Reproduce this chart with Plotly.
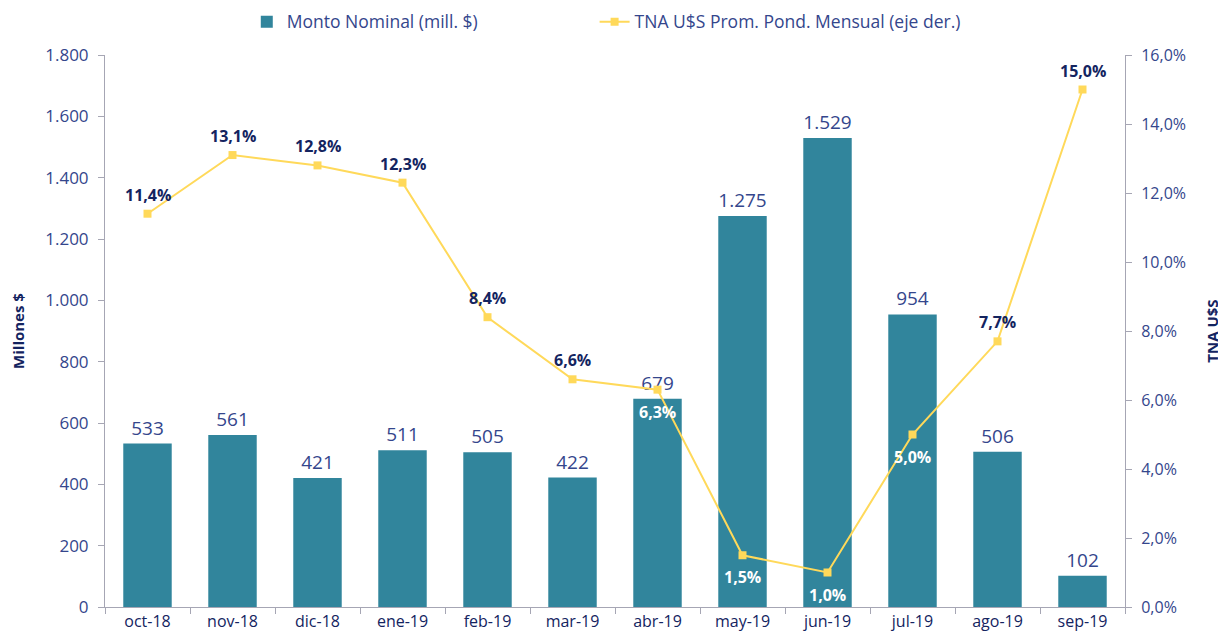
import plotly.graph_objects as go

BAR_COLOR = "#31859C"
LINE_COLOR = "#FFD95A"
NAVY = "#14245F"
TICK_COLOR = "#34468C"
AXIS_GRAY = "#A6A6B4"
FONT = "Open Sans"

meses = ["oct-18", "nov-18", "dic-18", "ene-19", "feb-19", "mar-19",
         "abr-19", "may-19", "jun-19", "jul-19", "ago-19", "sep-19"]
monto = [533, 561, 421, 511, 505, 422, 679, 1275, 1529, 954, 506, 102]
tna = [11.4, 13.1, 12.8, 12.3, 8.4, 6.6, 6.3, 1.5, 1.0, 5.0, 7.7, 15.0]

# labels that sit inside a bar go below the point, in white
inside = {"abr-19", "may-19", "jun-19", "jul-19"}

fig = go.Figure()
fig.add_trace(go.Bar(
    x=meses, y=monto, name="Monto Nominal (mill. $)", legend="legend",
    marker=dict(color=BAR_COLOR, line=dict(width=0)),
    texttemplate="%{y:,.0f}", textposition="outside",
    textfont=dict(color=TICK_COLOR, size=19, family=FONT),
    cliponaxis=False,
))
fig.add_trace(go.Scatter(
    x=meses, y=tna, yaxis="y2", mode="lines+markers", legend="legend2",
    name="TNA U$S Prom. Pond. Mensual (eje der.)",
    line=dict(color=LINE_COLOR, width=2),
    marker=dict(symbol="square", size=8, color=LINE_COLOR),
    cliponaxis=False,
))

for m, v in zip(meses, tna):
    below = m in inside
    fig.add_annotation(
        x=m, y=v, xref="x", yref="y2", showarrow=False,
        text=f"<b>{v:.1f}%</b>".replace(".", ","),
        yshift=-22 if below else 19,
        font=dict(size=16, color="white" if below else NAVY, family=FONT),
    )

legend_style = dict(orientation="h", xref="paper", xanchor="left",
                    yref="container", y=0.978, yanchor="middle",
                    font=dict(size=17.5, color=TICK_COLOR), itemwidth=30)

# page body adds an 8px margin, so the figure is sized to fit inside the window
fig.update_layout(
    width=1218, height=626,
    paper_bgcolor="white", plot_bgcolor="white",
    separators=",.",
    font=dict(family=FONT, color=TICK_COLOR),
    margin=dict(l=97, r=101, t=47, b=27),
    bargap=0.43,
    showlegend=True,
    legend=dict(x=0.139, **legend_style),
    legend2=dict(x=0.480, **legend_style),
    xaxis=dict(range=[-0.5, 11.5], showline=True, linecolor=AXIS_GRAY, linewidth=1,
               ticks="outside", tickson="boundaries", ticklen=6, tickcolor=AXIS_GRAY,
               tickfont=dict(size=16, color=NAVY), showgrid=False, automargin=False),
    yaxis=dict(range=[0, 1800], dtick=200, tickformat=",.0f",
               showline=True, linecolor=AXIS_GRAY, linewidth=1,
               ticks="outside", ticklen=6, tickcolor=AXIS_GRAY, ticklabelstandoff=6,
               tickfont=dict(size=17, color=TICK_COLOR), showgrid=False, zeroline=False,
               automargin=False,
               title=dict(text="<b>Millones $</b>", font=dict(size=15, color=NAVY), standoff=28)),
    yaxis2=dict(range=[0, 16], dtick=2, tickformat=".1f", ticksuffix="%",
                overlaying="y", side="right",
                showline=True, linecolor=AXIS_GRAY, linewidth=1,
                ticks="outside", ticklen=6, tickcolor=AXIS_GRAY, ticklabelstandoff=6,
                tickfont=dict(size=16, color=TICK_COLOR), showgrid=False, zeroline=False,
                automargin=False,
                title=dict(text="<b>TNA U$S</b>", font=dict(size=15, color=NAVY), standoff=22)),
)

fig.write_html("out.html")
